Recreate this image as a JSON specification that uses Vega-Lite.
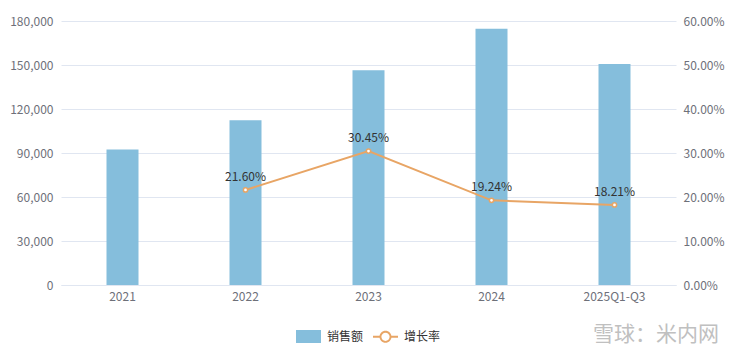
{
  "$schema": "https://vega.github.io/schema/vega-lite/v6.json",
  "width": 615,
  "height": 264,
  "autosize": {"type": "none"},
  "padding": {"left": 61, "top": 21, "right": 64, "bottom": 72},
  "background": "white",
  "config": {
    "view": {"stroke": null},
    "font": "Noto Sans CJK SC",
    "axis": {"labelFont": "Noto Sans CJK SC", "labelFontSize": 12, "labelColor": "#6e7079", "ticks": false, "title": null}
  },
  "title": {
    "text": "雪球：米内网",
    "orient": "bottom",
    "anchor": "end",
    "color": "#c0c0c0",
    "fontSize": 21,
    "fontWeight": "normal",
    "font": "Noto Sans CJK SC",
    "offset": -19,
    "dx": -5
  },
  "data": {
    "values": [
      {"period": "2021", "sales": 92340, "growth": null},
      {"period": "2022", "sales": 112290, "growth": 0.2160},
      {"period": "2023", "sales": 146480, "growth": 0.3045},
      {"period": "2024", "sales": 174660, "growth": 0.1924},
      {"period": "2025Q1-Q3", "sales": 150700, "growth": 0.1821}
    ]
  },
  "encoding": {
    "x": {
      "field": "period",
      "type": "nominal",
      "sort": null,
      "scale": {"paddingInner": 0, "paddingOuter": 0},
      "axis": {"labelAngle": 0, "domain": true, "domainColor": "#e0e6f1", "grid": false, "labelPadding": 6}
    }
  },
  "layer": [
    {
      "mark": {"type": "bar", "width": 32},
      "encoding": {
        "y": {
          "field": "sales",
          "type": "quantitative",
          "scale": {"domain": [0, 180000], "nice": false},
          "axis": {"orient": "left", "values": [0, 30000, 60000, 90000, 120000, 150000, 180000], "format": ",d", "domain": false, "gridColor": "#e0e6f1", "labelPadding": 8}
        },
        "color": {
          "datum": "销售额",
          "type": "nominal",
          "scale": {"domain": ["销售额", "增长率"], "range": ["#85bedc", "#e8a565"]},
          "legend": {
            "orient": "none",
            "legendX": 235,
            "legendY": 303,
            "direction": "horizontal",
            "title": null,
            "padding": 0,
            "symbolSize": 625,
            "symbolStrokeWidth": 0,
            "labelFontSize": 12,
            "labelColor": "#333333",
            "labelFont": "Noto Sans CJK SC",
            "labelOffset": 6,
            "columnPadding": 9,
            "encode": {
              "symbols": {
                "update": {
                  "shape": {"signal": "datum.value === '增长率' ? 'M-1,-0.08L-0.46,-0.08L-0.46,0.08L-1,0.08ZM0.46,-0.08L1,-0.08L1,0.08L0.46,0.08ZM0.48,0A0.48,0.48,0,1,1,-0.48,0A0.48,0.48,0,1,1,0.48,0ZM0.33,0A0.33,0.33,0,1,0,-0.33,0A0.33,0.33,0,1,0,0.33,0Z' : 'M-1,-0.52L1,-0.52L1,0.52L-1,0.52Z'"},
                  "strokeWidth": {"value": 0},
                  "opacity": {"value": 1}
                }
              }
            }
          }
        }
      }
    },
    {
      "transform": [{"filter": "datum.growth != null"}],
      "encoding": {
        "y": {
          "field": "growth",
          "type": "quantitative",
          "scale": {"domain": [0, 0.6], "nice": false},
          "axis": {"orient": "right", "values": [0, 0.1, 0.2, 0.3, 0.4, 0.5, 0.6], "format": ".2%", "domain": false, "grid": false, "labelPadding": 7}
        }
      },
      "layer": [
        {
          "mark": {"type": "line", "strokeWidth": 2},
          "encoding": {"color": {"datum": "增长率", "type": "nominal"}}
        },
        {
          "mark": {"type": "point", "filled": true, "fill": "#ffffff", "stroke": "#e8a565", "strokeWidth": 1.5, "size": 18, "opacity": 1}
        },
        {
          "mark": {"type": "text", "fontSize": 12, "color": "#333333", "baseline": "bottom", "dy": -6, "font": "Noto Sans CJK SC"},
          "encoding": {"text": {"field": "growth", "type": "quantitative", "format": ".2%"}}
        }
      ]
    }
  ],
  "resolve": {"scale": {"y": "independent"}}
}
